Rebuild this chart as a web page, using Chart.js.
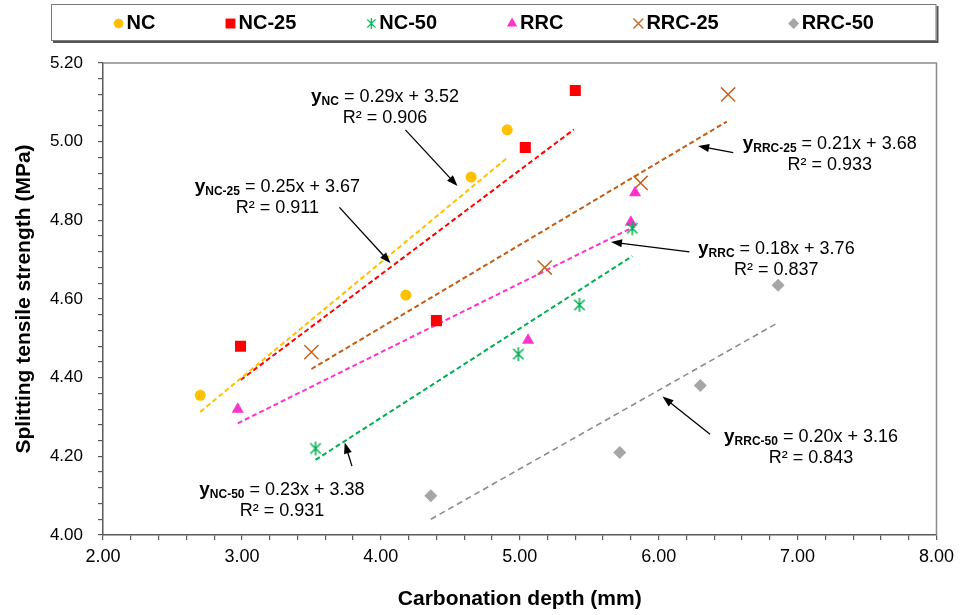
<!DOCTYPE html>
<html>
<head>
<meta charset="utf-8">
<script src="https://cdn.jsdelivr.net/npm/chart.js@4.4.1/dist/chart.umd.min.js"></script>
<style>
    html, body { margin: 0; padding: 0; background: #fff; }
    #wrap { width: 960px; height: 615px; position: relative; }
</style>
</head>
<body>
<div id="wrap"><canvas id="chart"></canvas></div>
<script>
// series
const seriesNames = ['NC', 'NC-25', 'NC-50', 'RRC', 'RRC-25', 'RRC-50'];

const ncX = [2.70, 4.18, 4.65, 4.91];
const ncY = [4.355, 4.61, 4.91, 5.03];
const nc25X = [2.99, 4.40, 5.04, 5.40];
const nc25Y = [4.48, 4.545, 4.985, 5.13];
const nc50X = [3.53, 4.99, 5.43, 5.81];
const nc50Y = [4.22, 4.46, 4.585, 4.78];
const rrcX = [2.97, 5.06, 5.80, 5.83];
const rrcY = [4.32, 4.495, 4.795, 4.87];
const rrc25X = [3.50, 5.18, 5.87, 6.50];
const rrc25Y = [4.465, 4.68, 4.895, 5.12];
const rrc50X = [4.36, 5.72, 6.30, 6.86];
const rrc50Y = [4.10, 4.21, 4.38, 4.635];

// trend line ends as drawn
const trendX = [[2.70, 4.91], [2.99, 5.39], [3.53, 5.81], [2.97, 5.83], [3.50, 6.49], [4.36, 6.86]];
const trendY = [[4.313, 4.959], [4.394, 5.031], [4.191, 4.709], [4.284, 4.785], [4.422, 5.051], [4.040, 4.540]];

// equation labels
const trendSlopes = ['0.29', '0.25', '0.23', '0.18', '0.21', '0.20'];
const trendIntercepts = ['3.52', '3.67', '3.38', '3.76', '3.68', '3.16'];
const trendR2 = ['0.906', '0.911', '0.931', '0.837', '0.933', '0.843'];

const xTitle = 'Carbonation depth (mm)';
const yTitle = 'Splitting tensile strength (MPa)';

// where the labels and arrows sit (data units)
const eqLayout = [
    {x: 4.03, y: 5.100, tail: [4.177, 5.030], tip: [4.552, 4.887]},
    {x: 3.255, y: 4.871, tail: [3.702, 4.833], tip: [4.070, 4.691]},
    {x: 3.288, y: 4.102, tail: [3.792, 4.175], tip: [3.740, 4.235]},
    {x: 6.847, y: 4.714, tail: [6.222, 4.720], tip: [5.657, 4.745]},
    {x: 7.231, y: 4.981, tail: [6.537, 4.972], tip: [6.284, 4.989]},
    {x: 7.097, y: 4.237, tail: [6.370, 4.256], tip: [6.028, 4.352]}
];

const FONT = "'Liberation Sans', Arial, Helvetica, sans-serif";
Chart.defaults.font.family = FONT;
Chart.defaults.color = '#000';

function makeAsterisk(color, size, lw) {
    let c = document.createElement('canvas');
    c.width = size;
    c.height = size;
    let g = c.getContext('2d');
    let m = size / 2, r = size / 2 - 1, d = r * 0.75;
    g.strokeStyle = color;
    g.lineWidth = lw;
    g.beginPath();
    g.moveTo(m, m - r); g.lineTo(m, m + r);
    g.moveTo(m - d, m - d); g.lineTo(m + d, m + d);
    g.moveTo(m + d, m - d); g.lineTo(m - d, m + d);
    g.stroke();
    return c;
}

function pts(xs, ys) {
    return xs.map(function (v, i) { return {x: v, y: ys[i]}; });
}

const colors = ['#FFC000', '#FF0000', '#00B050', '#FF33CC', '#C8641E', '#A6A6A6'];
const trendColors = ['#FFC000', '#FF0000', '#00B050', '#FF33CC', '#C55A11', '#8C8C8C'];
const styles = ['circle', 'rect', makeAsterisk('#00B050', 16, 1.5), 'triangle', 'crossRot', 'rectRot'];
const radii = [5.5, 7.8, 8, 7, 10, 6.5];
const legendRadii = [4.8, 7, 5, 6, 7, 5.5];
const legendAsterisk = makeAsterisk('#00B050', 13, 1.3);
const allX = [ncX, nc25X, nc50X, rrcX, rrc25X, rrc50X];
const allY = [ncY, nc25Y, nc50Y, rrcY, rrc25Y, rrc50Y];

let datasets = [];
seriesNames.forEach(function (name, i) {
    datasets.push({
        label: name,
        data: pts(allX[i], allY[i]),
        pointStyle: styles[i],
        pointRadius: radii[i],
        pointHoverRadius: radii[i],
        pointBackgroundColor: colors[i],
        pointBorderColor: colors[i],
        pointBorderWidth: i === 4 ? 1.5 : 0,
        showLine: false,
        order: 1,
        isSeries: true,
        seriesIndex: i
    });
    datasets.push({
        label: name + ' trend',
        data: pts(trendX[i], trendY[i]),
        showLine: true,
        borderColor: trendColors[i],
        borderWidth: i === 5 ? 1.6 : 2,
        borderDash: i === 5 ? [6, 4] : [5, 3],
        pointRadius: 0,
        pointHoverRadius: 0,
        fill: false,
        order: 2
    });
});

const framePlugin = {
    id: 'frame',
    beforeDatasetsDraw: function (chart) {
        let ctx = chart.ctx, a = chart.chartArea;
        ctx.save();
        ctx.strokeStyle = '#8a8a8a';
        ctx.lineWidth = 1.5;
        ctx.beginPath();
        ctx.moveTo(a.left, a.top);
        ctx.lineTo(a.right, a.top);
        ctx.lineTo(a.right, a.bottom);
        ctx.stroke();
        ctx.restore();
    }
};

const legendPlugin = {
    id: 'boxLegend',
    afterDraw: function (chart) {
        let ctx = chart.ctx, a = chart.chartArea;
        let bx = a.left - 52, by = 4, bw = a.right - bx, bh = 37;
        ctx.save();
        // box with a shadow
        ctx.fillStyle = '#555';
        ctx.fillRect(bx + 2, by + 2, bw, bh);
        ctx.fillStyle = '#fff';
        ctx.fillRect(bx, by, bw, bh);
        ctx.strokeStyle = '#7a7a7a';
        ctx.lineWidth = 1;
        ctx.strokeRect(bx + 0.5, by + 0.5, bw - 1, bh - 1);

        ctx.font = 'bold 20px ' + FONT;
        let items = chart.data.datasets.filter(function (d) { return d.isSeries; });
        let gap = 70, mark = 10, tgap = 3;
        let widths = items.map(function (d) { return mark + tgap + ctx.measureText(d.label).width; });
        let total = widths.reduce(function (s, w) { return s + w; }, 0) + gap * (items.length - 1);
        let x = bx + bw / 2 - total / 2;
        let cy = by + bh / 2 + 1;
        items.forEach(function (d, k) {
            let i = d.seriesIndex;
            ctx.fillStyle = colors[i];
            ctx.strokeStyle = colors[i];
            ctx.lineWidth = 1.3;
            let st = i === 2 ? legendAsterisk : styles[i];
            Chart.helpers.drawPoint(ctx, {pointStyle: st, rotation: 0, radius: legendRadii[i], borderWidth: i === 4 ? 1.3 : 0}, x + mark / 2, cy);
            ctx.fillStyle = '#000';
            ctx.textAlign = 'left';
            ctx.textBaseline = 'middle';
            ctx.fillText(d.label, x + mark + tgap, cy);
            x += widths[k] + gap;
        });
        ctx.restore();
    }
};

const eqPlugin = {
    id: 'eqLabels',
    afterDatasetsDraw: function (chart) {
        let ctx = chart.ctx, xs = chart.scales.x, ys = chart.scales.y;
        ctx.save();
        eqLayout.forEach(function (L, i) {
            // arrow
            let x1 = xs.getPixelForValue(L.tail[0]), y1 = ys.getPixelForValue(L.tail[1]);
            let x2 = xs.getPixelForValue(L.tip[0]), y2 = ys.getPixelForValue(L.tip[1]);
            let ang = Math.atan2(y2 - y1, x2 - x1);
            let hl = 11, hw = 4;
            ctx.strokeStyle = '#000';
            ctx.fillStyle = '#000';
            ctx.lineWidth = 1.3;
            ctx.beginPath();
            ctx.moveTo(x1, y1);
            ctx.lineTo(x2 - Math.cos(ang) * hl * 0.8, y2 - Math.sin(ang) * hl * 0.8);
            ctx.stroke();
            ctx.beginPath();
            ctx.moveTo(x2, y2);
            ctx.lineTo(x2 - Math.cos(ang) * hl - Math.sin(ang) * hw, y2 - Math.sin(ang) * hl + Math.cos(ang) * hw);
            ctx.lineTo(x2 - Math.cos(ang) * hl + Math.sin(ang) * hw, y2 - Math.sin(ang) * hl - Math.cos(ang) * hw);
            ctx.closePath();
            ctx.fill();

            // equation, first line
            let cx = xs.getPixelForValue(L.x), by = ys.getPixelForValue(L.y);
            let rest = ' = ' + trendSlopes[i] + 'x + ' + trendIntercepts[i];
            ctx.font = 'bold 19px ' + FONT;
            let wy = ctx.measureText('y').width;
            ctx.font = 'bold 12px ' + FONT;
            let ws = ctx.measureText(seriesNames[i]).width;
            ctx.font = '18px ' + FONT;
            let wr = ctx.measureText(rest).width;
            let sx = cx - (wy + ws + wr) / 2;
            ctx.textAlign = 'left';
            ctx.textBaseline = 'alphabetic';
            ctx.font = 'bold 19px ' + FONT;
            ctx.fillText('y', sx, by);
            ctx.font = 'bold 12px ' + FONT;
            ctx.fillText(seriesNames[i], sx + wy, by + 3);
            ctx.font = '18px ' + FONT;
            ctx.fillText(rest, sx + wy + ws, by);
            // second line
            ctx.textAlign = 'center';
            ctx.fillText('R\u00B2 = ' + trendR2[i], cx, by + 21);
        });
        ctx.restore();
    }
};

const ctx = document.getElementById('chart');
const myChart = new Chart(ctx, {
    type: 'scatter',
    data: {datasets: datasets},
    plugins: [framePlugin, eqPlugin, legendPlugin],
    options: {
        responsive: true,
        maintainAspectRatio: false,
        animation: false,
        layout: {padding: {top: 63, right: 20, left: 0, bottom: 0}},
        plugins: {
            legend: {display: false},
            tooltip: {enabled: false}
        },
        scales: {
            x: {
                type: 'linear',
                min: 2,
                max: 8,
                afterFit: function (scale) { scale.height = 80; },
                border: {display: true, color: '#595959', width: 1.5},
                grid: {drawOnChartArea: false, drawTicks: true, tickLength: 5, color: '#595959', lineWidth: 1.2},
                ticks: {
                    stepSize: 0.2,
                    autoSkip: false,
                    maxRotation: 0,
                    padding: 6,
                    font: {size: 18},
                    color: '#000',
                    callback: function (value) {
                        return Math.abs(value - Math.round(value)) < 1e-6 ? value.toFixed(2) : '';
                    }
                },
                title: {
                    display: true,
                    text: xTitle,
                    font: {size: 21, weight: 'bold'},
                    color: '#000',
                    padding: {top: 0, bottom: 3}
                }
            },
            y: {
                type: 'linear',
                min: 4,
                max: 5.2,
                afterFit: function (scale) { scale.width = 103; },
                border: {display: true, color: '#595959', width: 1.5},
                grid: {drawOnChartArea: false, drawTicks: true, tickLength: 5, color: '#595959', lineWidth: 1.2},
                ticks: {
                    stepSize: 0.04,
                    autoSkip: false,
                    padding: 15,
                    font: {size: 17},
                    color: '#000',
                    callback: function (value) {
                        let k = Math.round(value * 100);
                        return k % 20 === 0 ? (k / 100).toFixed(2) : '';
                    }
                },
                title: {
                    display: true,
                    text: yTitle,
                    font: {size: 21, weight: 'bold'},
                    color: '#000',
                    padding: {top: 12, bottom: 0}
                }
            }
        }
    }
});
</script>
</body>
</html>
